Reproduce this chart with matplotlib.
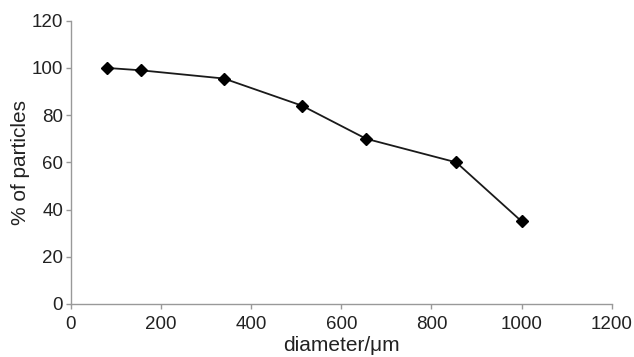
import matplotlib
matplotlib.use("Agg")
import matplotlib.pyplot as plt

# data
diameter = [80, 155, 340, 513, 655, 855, 1000]
percent = [100, 99, 95.5, 84, 70, 60, 35]

x_ticks = [0, 200, 400, 600, 800, 1000, 1200]
y_ticks = [0, 20, 40, 60, 80, 100, 120]

plt.rcParams['font.family'] = ['Liberation Sans', 'DejaVu Sans']

fig = plt.figure(figsize=(6.34, 3.57), dpi=100)
ax = fig.add_axes([0.1115, 0.1485, 0.8535, 0.7935])

ax.plot(diameter, percent, color='#1a1a1a', lw=1.3, marker='D', ms=6,
        mfc='black', mec='black')

ax.set_xlim(0, 1200)
ax.set_ylim(0, 120)
ax.set_xticks(x_ticks)
ax.set_yticks(y_ticks)

for s in ['top', 'right']:
    ax.spines[s].set_visible(False)
for s in ['left', 'bottom']:
    ax.spines[s].set_color('#999999')
    ax.spines[s].set_linewidth(1.0)
ax.tick_params(colors='#999999', labelcolor='#222222', labelsize=13.5,
               length=3.5, width=1, pad=2)
ax.tick_params(axis='x', pad=5)

ax.set_xlabel('diameter/\u03bcm', fontsize=15, color='#222222', labelpad=2)
ax.set_ylabel('% of particles', fontsize=15, color='#222222', labelpad=1)

fig.savefig('out.png', dpi=100)
